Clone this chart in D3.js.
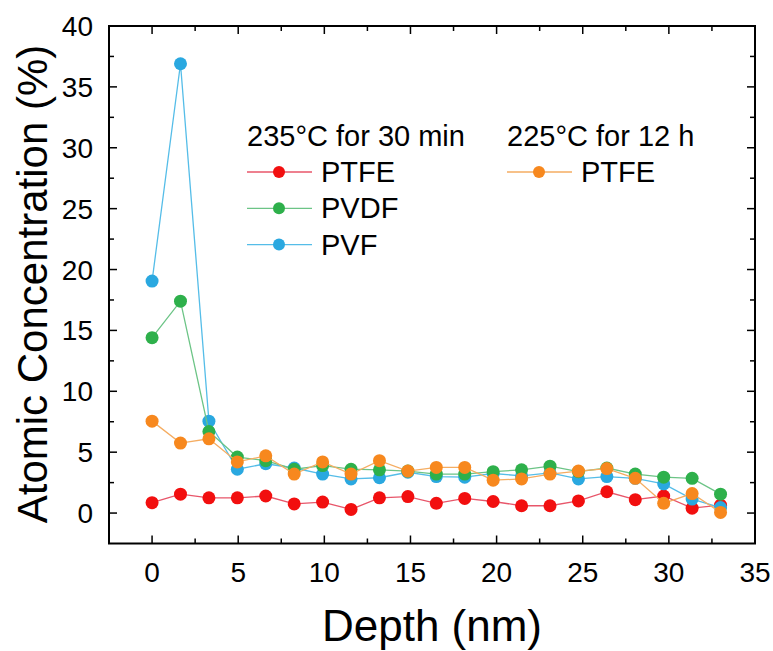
<!DOCTYPE html>
<html><head><meta charset="utf-8">
<script src="https://cdn.jsdelivr.net/npm/d3@7"></script>
<style>html,body{margin:0;padding:0;background:#fff}svg{display:block}text{font-family:Arial,"Liberation Sans",sans-serif;fill:#000}</style>
</head><body>
<script>
const depth = [0,1.65,3.3,4.95,6.6,8.25,9.9,11.55,13.2,14.85,16.5,18.15,19.8,21.45,23.1,24.75,26.4,28.05,29.7,31.35,33];
const ptfe235 = [0.85,1.55,1.25,1.25,1.4,0.75,0.9,0.3,1.25,1.35,0.8,1.2,0.95,0.6,0.6,1.0,1.75,1.1,1.4,0.4,0.65];
const pvdf235 = [14.4,17.4,6.7,4.6,4.3,3.6,3.9,3.6,3.55,3.45,3.2,3.2,3.4,3.55,3.85,3.4,3.7,3.2,2.95,2.85,1.55];
const pvf235 = [19.05,36.9,7.55,3.6,4.05,3.7,3.2,2.8,2.9,3.35,3.0,2.95,3.25,3.05,3.3,2.8,3.0,2.85,2.4,1.15,0.45];
const ptfe225 = [7.55,5.75,6.1,4.2,4.7,3.2,4.2,3.2,4.3,3.45,3.75,3.75,2.7,2.8,3.2,3.45,3.65,2.85,0.8,1.6,0.05];
const xTicks = [0,5,10,15,20,25,30,35];
const yTicks = [0,5,10,15,20,25,30,35,40];
const legendHeaders = ["235°C for 30 min","225°C for 12 h"];

const series = [
  {name:"PTFE", values:ptfe235, fill:"#f20f0f", line:"#e8566a", col:0, row:0},
  {name:"PVF", values:pvf235, fill:"#2aa8e0", line:"#55bde8", col:0, row:2},
  {name:"PVDF", values:pvdf235, fill:"#2eb04b", line:"#6cc486", col:0, row:1},
  {name:"PTFE", values:ptfe225, fill:"#f7881e", line:"#f5ad62", col:1, row:0}
];

const W=773,H=651;
const L=109,R=755,T=26,B=543.5;
const svg=d3.select("body").append("svg").attr("width",W).attr("height",H);
const x=d3.scaleLinear().domain([-2.5,35]).range([L,R]);
const y=d3.scaleLinear().domain([-2.5,40]).range([B,T]);

const minorX=d3.range(0,35.01,2.5), minorY=d3.range(0,40.01,2.5);
const g=svg.append("g");
function isMajor(v){return Math.abs(v/5-Math.round(v/5))<1e-6;}
minorX.forEach(v=>{
  const len=isMajor(v)?8:5;
  g.append("line").attr("x1",x(v)).attr("x2",x(v)).attr("y1",B).attr("y2",B-len).attr("stroke","#000").attr("stroke-width",1.5);
  g.append("line").attr("x1",x(v)).attr("x2",x(v)).attr("y1",T).attr("y2",T+len).attr("stroke","#000").attr("stroke-width",1.5);
});
minorY.forEach(v=>{
  const len=isMajor(v)?8:5;
  g.append("line").attr("y1",y(v)).attr("y2",y(v)).attr("x1",L).attr("x2",L+len).attr("stroke","#000").attr("stroke-width",1.5);
  g.append("line").attr("y1",y(v)).attr("y2",y(v)).attr("x1",R).attr("x2",R-len).attr("stroke","#000").attr("stroke-width",1.5);
});
g.selectAll(".xl").data(xTicks).enter().append("text").attr("x",d=>x(d)).attr("y",582)
  .attr("text-anchor","middle").attr("font-size",28).text(d=>d);
g.selectAll(".yl").data(yTicks).enter().append("text").attr("x",93).attr("y",d=>y(d)+10)
  .attr("text-anchor","end").attr("font-size",28).text(d=>d);
svg.append("text").attr("x",432).attr("y",641).attr("text-anchor","middle").attr("font-size",44).text("Depth (nm)");
svg.append("text").attr("transform","translate(47,284) rotate(-90)").attr("text-anchor","middle").attr("font-size",42).text("Atomic Concentration (%)");

const lineGen=d3.line().x((d,i)=>x(depth[i])).y(d=>y(d));
series.forEach(s=>{
  const sg=svg.append("g");
  sg.append("path").datum(s.values).attr("d",lineGen).attr("fill","none").attr("stroke",s.line).attr("stroke-width",1.3);
  sg.selectAll("circle").data(s.values).enter().append("circle")
    .attr("cx",(d,i)=>x(depth[i])).attr("cy",d=>y(d)).attr("r",6.5).attr("fill",s.fill);
});

svg.append("rect").attr("x",L).attr("y",T).attr("width",R-L).attr("height",B-T).attr("fill","none").attr("stroke","#000").attr("stroke-width",2);

const colX=[247,507], hdrY=146, row0=172, rowH=36.3;
legendHeaders.forEach((h,i)=>svg.append("text").attr("x",colX[i]).attr("y",hdrY).attr("font-size",29).text(h));
series.forEach(s=>{
  const cx=colX[s.col], cy=row0+s.row*rowH;
  svg.append("line").attr("x1",cx).attr("x2",cx+65).attr("y1",cy).attr("y2",cy).attr("stroke",s.line).attr("stroke-width",1.3);
  svg.append("circle").attr("cx",cx+32).attr("cy",cy).attr("r",6).attr("fill",s.fill);
  svg.append("text").attr("x",cx+74).attr("y",cy+10).attr("font-size",29).text(s.name);
});
</script>
</body></html>
